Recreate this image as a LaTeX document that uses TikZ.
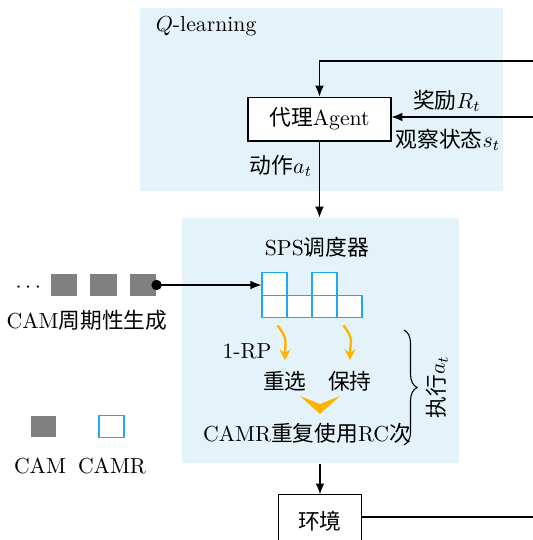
\documentclass[tikz,border=0pt]{standalone}
\usepackage{amsmath}
\usepackage{fontspec}
\newfontfamily\cjk{Noto Sans CJK SC}
\usetikzlibrary{calc,arrows.meta,decorations.pathreplacing}
\definecolor{bgblue}{RGB}{228,242,249}
\definecolor{camrblue}{RGB}{30,170,240}
\definecolor{camgray}{RGB}{128,128,128}
\definecolor{amber}{RGB}{255,180,0}
\newcommand{\zh}[1]{{\cjk #1}}

\begin{document}
\begin{tikzpicture}[x=0.46pt,y=-0.46pt,line width=0.5pt,
  region/.style={fill=bgblue,inner sep=0pt},
  blockbox/.style={draw,fill=white,inner sep=0pt},
  camcell/.style={fill=camgray,minimum width=12pt,minimum height=10.1pt,inner sep=0pt},
  camrcell/.style={draw=camrblue,fill=white,line width=0.6pt,minimum width=11.5pt,minimum height=10.35pt,inner sep=0pt},
  orangearrow/.style={amber,line width=1.1pt,-{Stealth[length=5pt,width=5pt]}},
  flow/.style={-{Latex[length=5pt,width=4pt]}}]
\useasboundingbox (0,0) rectangle (533,540);
\clip (0,0) rectangle (533,540);
% shaded regions
\node[region,minimum width=167pt,minimum height=84.2pt] (ql) at (321.5,99.5) {};
\node[region,minimum width=127.4pt,minimum height=112.7pt] (sps) at (320.5,340.5) {};
\node[anchor=west] (qlabel) at (148,26) {$Q$-learning};
% agent and environment
\node[blockbox,minimum width=65.8pt,minimum height=20.2pt] (agent) at (319.5,119) {\zh{代理}Agent};
\node[blockbox,minimum width=38.2pt,minimum height=24pt] (env) at (320,521) {\zh{环境}};
\coordinate (fbR) at (540,61);
\coordinate (stR) at (540,117);
\coordinate (envR) at (540,517);
\draw[flow] (fbR) -| (agent.north);
\draw[flow] (stR) -- (stR -| agent.east);
\draw (env.east |- envR) -- (envR);
\draw[flow] (agent.south) -- (agent.south |- sps.north);
\draw[flow] (sps.south -| env.north) -- (env.north);
\node (reward) at (447,101) {\zh{奖励}$R_t$};
\node (obs) at (448,140) {\zh{观察状态}$s_t$};
\node (act) at (281,166) {\zh{动作}$a_t$};
% SPS scheduler
\node (spstitle) at (317,247) {SPS\zh{调度器}};
\foreach \i/\x/\y in {1/274.5/284,2/324.5/284,3/274.5/306.5,4/299.5/306.5,5/324.5/306.5,6/349.5/306.5}
  \node[camrcell] (c\i) at (\x,\y) {};
% periodic CAMs
\foreach \i/\x in {1/64,2/103.5,3/143}
  \node[camcell] (g\i) at (\x,285) {};
\node (dots) at (30,288) {$\cdots$};
\node (camgen) at (87,320) {CAM\zh{周期性生成}};
\fill (g3.east) circle (2.4pt);
\draw[flow] (g3.east) -- (g3.east -| c1.west);
% reselect / keep
\node (onerp) at (247,351) {1-RP};
\node (reselect) at (285,381) {\zh{重选}};
\node (keep) at (350,381) {\zh{保持}};
\draw[orangearrow] ($(c3.south)+(3,7)$) .. controls +(11,14) and +(0,-18) .. ($(reselect.north)+(0,-3)$);
\draw[orangearrow] ($(c6.south)+(-6,7)$) .. controls +(11,14) and +(0,-18) .. ($(keep.north)+(0,-3)$);
\fill[amber] (300,396) -- (320,404) -- (340,396) -- (320,414) -- cycle;
\node (reuse) at (307,433) {CAMR\zh{重复使用}RC\zh{次}};
\draw[decorate,decoration={brace,amplitude=6pt}] (404,330) -- (404,445);
\node[rotate=90] (exec) at (437,387) {\zh{执行}$a_t$};
% legend
\node[camcell,minimum width=11.5pt] (lgcam) at (43.5,426.5) {};
\node[camrcell] (lgcamr) at (111.5,426.5) {};
\node (lgcamtxt) at (40,466) {CAM};
\node (lgcamrtxt) at (112,466) {CAMR};
\end{tikzpicture}
\end{document}
